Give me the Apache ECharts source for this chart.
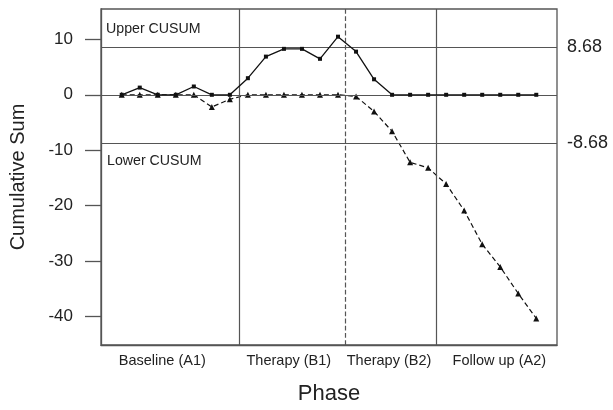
<!DOCTYPE html>
<html>
<head>
<meta charset="utf-8">
<script src="https://cdn.jsdelivr.net/npm/echarts@6/dist/echarts.min.js"></script>
<style>html,body{margin:0;padding:0;background:#fff;}#c{width:613px;height:410px;}</style>
</head>
<body>
<div id="c"></div>
<script>
const sessions = [0,1,2,3,4,5,6,7,8,9,10,11,12,13,14,15,16,17,18,19,20,21,22,23];
const upperCusum = [0,1.3,0,0,1.5,0,0,3.0,6.9,8.3,8.3,6.5,10.5,7.8,2.8,0,0,0,0,0,0,0,0,0];
const lowerCusum = [0,0,0,0,0,-2.2,-0.8,0,0,0,0,0,0,-0.3,-3.0,-6.6,-12.2,-13.2,-16.1,-20.9,-27.0,-31.1,-35.9,-40.4];
const yTicks = [-40,-30,-20,-10,0,10];
const threshold = 8.68;
const phaseNames = ['Baseline (A1)','Therapy (B1)','Therapy (B2)','Follow up (A2)'];
const phaseCenters = [2.25, 9.27, 14.83, 20.95];
const phaseBreaks = [6.5, 12.42, 17.45];
const phaseBreakStyles = ['solid','dashed','solid'];

const gridColor = '#555';
const chart = echarts.init(document.getElementById('c'));
const font = 'Liberation Sans, Arial, Helvetica, sans-serif';

const breakLines = phaseBreaks.map((x, i) => ({
  xAxis: x,
  lineStyle: { type: phaseBreakStyles[i], color: gridColor, width: 1.2 },
  label: { show: false }
}));

chart.setOption({
  animation: false,
  backgroundColor: '#fff',
  grid: { left: 101, right: 56, top: 9, bottom: 64, show: true, borderColor: gridColor, borderWidth: 1.3, backgroundColor: 'transparent' },
  xAxis: {
    type: 'value', min: -1.15, max: 24.15,
    splitLine: { show: false },
    axisLine: { show: true, onZero: false, lineStyle: { color: gridColor, width: 1.3 } },
    axisTick: { show: false },
    axisLabel: {
      customValues: phaseCenters,
      formatter: v => { const i = phaseCenters.findIndex(c => Math.abs(c - v) < 1e-6); return i >= 0 ? phaseNames[i] : ''; },
      color: '#222', fontSize: 14.5, fontFamily: font, margin: 8
    },
    name: 'Phase', nameLocation: 'middle', nameGap: 38,
    nameTextStyle: { fontSize: 22, color: '#222', fontFamily: font }
  },
  yAxis: {
    type: 'value', min: -45.2, max: 15.5,
    splitLine: { show: false },
    axisLine: { show: true, onZero: false, lineStyle: { color: gridColor, width: 1.3 } },
    axisTick: { show: true, inside: false, customValues: yTicks, length: 16, lineStyle: { color: gridColor, width: 1.3 } },
    axisLabel: { customValues: yTicks, color: '#222', fontSize: 17, fontFamily: font, margin: 28 },
    name: 'Cumulative Sum', nameLocation: 'middle', nameGap: 73,
    nameTextStyle: { fontSize: 20, color: '#222', fontFamily: font }
  },
  series: [
    {
      name: 'Upper', type: 'line',
      data: sessions.map((s, i) => [s, upperCusum[i]]),
      symbol: 'rect', symbolSize: 4,
      lineStyle: { color: '#111', width: 1.3 },
      itemStyle: { color: '#111' },
      z: 5,
      markLine: {
        silent: true, symbol: 'none', animation: false,
        data: [
          { yAxis: 0, lineStyle: { type: 'solid', color: gridColor, width: 1.2 }, label: { show: false } },
          { yAxis: threshold, lineStyle: { type: 'solid', color: gridColor, width: 1.2 },
            label: { show: true, position: 'end', formatter: '8.68', fontSize: 18, color: '#222', fontFamily: font, distance: 10 } },
          { yAxis: -threshold, lineStyle: { type: 'solid', color: gridColor, width: 1.2 },
            label: { show: true, position: 'end', formatter: '-8.68', fontSize: 18, color: '#222', fontFamily: font, distance: 10 } },
          { yAxis: threshold, lineStyle: { color: 'rgba(0,0,0,0)', width: 0 },
            label: { show: true, position: 'insideStartTop', formatter: 'Upper CUSUM', fontSize: 14.2, color: '#222', fontFamily: font, distance: [5, 11] } },
          { yAxis: -threshold, lineStyle: { color: 'rgba(0,0,0,0)', width: 0 },
            label: { show: true, position: 'insideStartBottom', formatter: 'Lower CUSUM', fontSize: 14.2, color: '#222', fontFamily: font, distance: [6, 11] } }
        ].concat(breakLines)
      }
    },
    {
      name: 'Lower', type: 'line',
      data: sessions.map((s, i) => [s, lowerCusum[i]]),
      symbol: 'triangle', symbolSize: 6,
      lineStyle: { color: '#111', width: 1.2, type: [5, 3] },
      itemStyle: { color: '#111' },
      z: 4
    }
  ]
});
</script>
</body>
</html>
